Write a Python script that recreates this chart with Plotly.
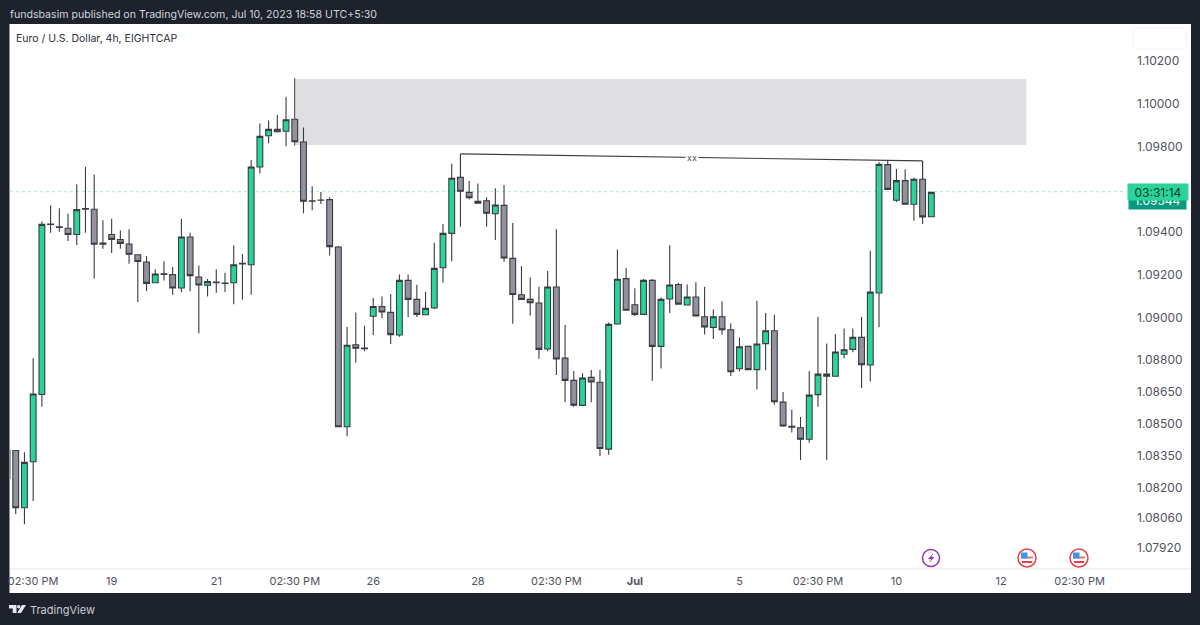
import plotly.graph_objects as go

# 4h candles, one per bar, oldest first
opens = [1.08246,1.08377,1.08109,1.08324,1.08639,1.09437,1.09424,1.09417,1.09388,1.09509,
         1.09506,1.09342,1.09388,1.09364,1.09343,1.09293,1.09259,1.09162,1.09204,1.09200,
         1.09137,1.09376,1.09189,1.09150,1.09165,1.09161,1.09162,1.09253,1.09246,1.09704,
         1.09850,1.09880,1.09871,1.09927,1.09821,1.09545,1.09549,1.09551,1.09329,1.08488,
         1.08872,1.08856,1.09005,1.09050,1.09023,1.08917,1.09173,1.09084,1.09012,1.09044,
         1.09232,1.09393,1.09655,1.09585,1.09534,1.09546,1.09485,1.09524,1.09276,1.09106,
         1.09084,1.09067,1.08852,1.09142,1.08809,1.08705,1.08588,1.08719,1.08696,1.08383,
         1.08969,1.09181,1.09059,1.09014,1.09173,1.08864,1.09086,1.09154,1.09058,1.09095,
         1.09003,1.08953,1.09003,1.08942,1.08759,1.08864,1.08755,1.08877,1.08937,1.08603,
         1.08490,1.08483,1.08429,1.08638,1.08734,1.08724,1.08827,1.08850,1.08906,1.08777,
         1.09114,1.09715,1.09548,1.09640,1.09529,1.09646,1.09471]
highs = [1.08385,1.08377,1.08368,1.08808,1.09448,1.09524,1.09510,1.09485,1.09623,1.09705,
         1.09669,1.09454,1.09462,1.09406,1.09412,1.09293,1.09287,1.09225,1.09262,1.09236,
         1.09462,1.09396,1.09243,1.09179,1.09225,1.09209,1.09337,1.09296,1.09737,1.09907,
         1.09921,1.09947,1.10033,1.10119,1.09889,1.09613,1.09587,1.09562,1.09334,1.08955,
         1.09023,1.08961,1.09090,1.09098,1.09109,1.09200,1.09200,1.09153,1.09120,1.09349,
         1.09437,1.09719,1.09655,1.09638,1.09627,1.09562,1.09604,1.09619,1.09441,1.09239,
         1.09187,1.09143,1.09217,1.09412,1.08964,1.08749,1.08738,1.08753,1.08753,1.08976,
         1.09318,1.09231,1.09136,1.09179,1.09179,1.09093,1.09337,1.09162,1.09154,1.09164,
         1.09143,1.09037,1.09075,1.08972,1.08906,1.08864,1.09078,1.09020,1.09012,1.08650,
         1.08568,1.08533,1.08749,1.09003,1.08877,1.08922,1.08948,1.08948,1.09001,1.09312,
         1.09726,1.09732,1.09694,1.09693,1.09655,1.09646,1.09585]
lows = [1.08240,1.08079,1.08031,1.08140,1.08582,1.09396,1.09401,1.09357,1.09339,1.09396,
        1.09182,1.09321,1.09301,1.09321,1.09251,1.09072,1.09123,1.09159,1.09172,1.09106,
        1.09117,1.09122,1.08925,1.09098,1.09115,1.09119,1.09061,1.09084,1.09106,1.09673,
        1.09815,1.09869,1.09801,1.09804,1.09487,1.09501,1.09530,1.09289,1.08488,1.08443,
        1.08789,1.08841,1.08917,1.08997,1.08875,1.08909,1.09001,1.09001,1.09012,1.09039,
        1.09162,1.09262,1.09424,1.09552,1.09534,1.09424,1.09362,1.09260,1.08970,1.09084,
        1.09009,1.08806,1.08841,1.08730,1.08602,1.08582,1.08588,1.08602,1.08351,1.08357,
        1.08969,1.09033,1.09005,1.09014,1.08703,1.08761,1.09020,1.09062,1.09058,1.09006,
        1.08920,1.08898,1.08919,1.08725,1.08747,1.08755,1.08663,1.08752,1.08592,1.08488,
        1.08461,1.08332,1.08413,1.08582,1.08332,1.08724,1.08808,1.08836,1.08669,1.08700,
        1.08953,1.09599,1.09540,1.09529,1.09452,1.09437,1.09471]
closes = [1.08379,1.08109,1.08321,1.08641,1.09435,1.09435,1.09421,1.09388,1.09504,1.09506,
          1.09342,1.09348,1.09365,1.09346,1.09295,1.09261,1.09159,1.09203,1.09201,1.09137,
          1.09376,1.09195,1.09151,1.09168,1.09162,1.09159,1.09246,1.09250,1.09704,1.09847,
          1.09880,1.09869,1.09925,1.09822,1.09543,1.09543,1.09548,1.09331,1.08488,1.08869,
          1.08855,1.08853,1.09051,1.09025,1.08919,1.09173,1.09084,1.09014,1.09042,1.09229,
          1.09393,1.09651,1.09590,1.09560,1.09543,1.09487,1.09526,1.09278,1.09107,1.09084,
          1.09068,1.08850,1.09142,1.08805,1.08705,1.08589,1.08716,1.08697,1.08386,1.08967,
          1.09178,1.09033,1.09014,1.09173,1.08864,1.09084,1.09151,1.09062,1.09095,1.09006,
          1.08955,1.09003,1.08942,1.08745,1.08862,1.08755,1.08875,1.08937,1.08605,1.08491,
          1.08486,1.08429,1.08636,1.08734,1.08724,1.08838,1.08848,1.08906,1.08778,1.09118,
          1.09716,1.09599,1.09640,1.09529,1.09646,1.09470,1.09585]
bars = list(range(len(opens)))

time_ticks = [3, 12, 24, 33, 42, 54, 63, 72, 84, 93, 102, 114, 123]
time_labels = ["02:30 PM", "19", "21", "02:30 PM", "26", "28", "02:30 PM", "<b>Jul</b>",
               "5", "02:30 PM", "10", "12", "02:30 PM"]
price_ticks = [1.102, 1.1, 1.098, 1.094, 1.092, 1.09, 1.088, 1.0865, 1.085, 1.0835, 1.082, 1.0806, 1.0792]
price_labels = ["1.10200", "1.10000", "1.09800", "1.09400", "1.09200", "1.09000", "1.08800",
                "1.08650", "1.08500", "1.08350", "1.08200", "1.08060", "1.07920"]

last_price = 1.09588
zone_bars = [33.14, 116.9]
zone_prices = [1.09807, 1.10116]
bracket_bars = [52, 105]
bracket_prices = [1.09765, 1.09732]

W, H = 1200, 625
L, R, T, B = 10, 1127, 24, 569
FONT = "Inter, 'Liberation Sans', sans-serif"
DARK_BG = "#1e222d"
GREEN = "#2ad39a"
GREY = "#92929c"
EDGE = "#3a3c44"


def px(x):
    return (x - L) / (R - L)


def py(y):
    return (B - y) / (B - T)


def paper_path(points):
    # points are page pixels, "Z" closes the outline
    out = ""
    for i, p in enumerate(points):
        if p == "Z":
            out += " Z"
        else:
            out += (" M " if i == 0 or points[i - 1] == "Z" else " L ") + f"{px(p[0]):.5f} {py(p[1]):.5f}"
    return out.strip()


def circle(cx, cy, r, fill, line, width):
    return dict(type="circle", xref="paper", yref="paper", x0=px(cx - r), x1=px(cx + r),
                y0=py(cy + r), y1=py(cy - r), fillcolor=fill, line=dict(color=line, width=width), layer="above")


def box(x0, y0, x1, y1, fill, layer="above"):
    return dict(type="rect", xref="paper", yref="paper", x0=px(x0), x1=px(x1), y0=py(y1), y1=py(y0),
                fillcolor=fill, line_width=0, layer=layer)


fig = go.Figure(go.Candlestick(
    x=bars, open=opens, high=highs, low=lows, close=closes,
    increasing=dict(fillcolor=GREEN, line=dict(color=EDGE, width=1.1)),
    decreasing=dict(fillcolor=GREY, line=dict(color=EDGE, width=1.1)),
    whiskerwidth=0, showlegend=False,
))

shapes = [
    # white chart card behind the axes
    box(9.5, 24, 1191, 593, "white", "below"),
    dict(type="line", xref="paper", yref="paper", x0=0, x1=px(1191), y0=0, y1=0,
         line=dict(color="#e4e6ec", width=1), layer="below"),
    # supply zone
    dict(type="rect", x0=zone_bars[0], x1=zone_bars[1], y0=zone_prices[0], y1=zone_prices[1],
         fillcolor="#dfdfe1", line_width=0, layer="below"),
    # last price line
    dict(type="line", xref="paper", x0=0, x1=1, y0=last_price, y1=last_price,
         line=dict(color="#a5e8d0", width=1, dash="dot"), layer="below"),
    # xx bracket
    dict(type="line", x0=bracket_bars[0], x1=bracket_bars[1], y0=bracket_prices[0], y1=bracket_prices[1],
         line=dict(color="#3c3e46", width=1.2)),
    dict(type="line", x0=bracket_bars[0], x1=bracket_bars[0], y0=bracket_prices[0], y1=highs[52],
         line=dict(color="#3c3e46", width=1.2)),
    dict(type="line", x0=bracket_bars[1], x1=bracket_bars[1], y0=bracket_prices[1], y1=highs[105],
         line=dict(color="#3c3e46", width=1.2)),
    # empty logo slot top right
    dict(type="path", xref="paper", yref="paper", layer="above",
         path=paper_path([(1136, 28), (1184, 28), (1187, 31), (1187, 46), (1184, 49),
                          (1136, 49), (1133, 46), (1133, 31), "Z"]),
         fillcolor="white", line=dict(color="#f1f3f6", width=1)),
    # lightning event
    circle(931, 558, 8.5, "white", "#9c33b5", 1.5),
    dict(type="path", xref="paper", yref="paper", layer="above",
         path=paper_path([(933.5, 553), (928, 559), (931, 559), (929, 563), (934.5, 557), (931.5, 557), "Z"]),
         fillcolor="#9c33b5", line_width=0),
    # TradingView mark
    dict(type="path", xref="paper", yref="paper", layer="above",
         path=paper_path([(9, 605), (16.5, 605), (16.5, 613), (12.7, 613), (12.7, 608.5), (9, 608.5), "Z"]),
         fillcolor="#e8e9ec", line_width=0),
    circle(18.7, 606.7, 1.7, "#e8e9ec", "#e8e9ec", 0),
    dict(type="path", xref="paper", yref="paper", layer="above",
         path=paper_path([(22, 605), (26, 605), (21, 613), (17.2, 613), "Z"]),
         fillcolor="#e8e9ec", line_width=0),
]
# US flag events
for cx in [1027, 1079]:
    shapes.append(circle(cx, 558, 9, "white", "#e8404a", 1.5))
    shapes.append(box(cx - 6, 556.5, cx + 6, 558.5, "#e8737a"))
    shapes.append(box(cx - 5, 561, cx + 5, 563, "#e8404a"))
    shapes.append(box(cx - 6, 552.5, cx + 0.5, 558.5, "#3f93e8"))

annotations = [
    dict(text="fundsbasim published on TradingView.com, Jul 10, 2023 18:58 UTC+5:30", xref="paper", yref="paper",
         x=px(8), y=py(14), xanchor="left", yanchor="middle", showarrow=False,
         font=dict(family=FONT, size=10.6, color="#d1d4dc")),
    dict(text="Euro / U.S. Dollar, 4h, EIGHTCAP", xref="paper", yref="paper",
         x=px(14), y=py(38), xanchor="left", yanchor="middle", showarrow=False,
         font=dict(family=FONT, size=10.5, color="#2a2e39")),
    dict(text="TradingView", xref="paper", yref="paper",
         x=px(28), y=py(610), xanchor="left", yanchor="middle", showarrow=False,
         font=dict(family=FONT, size=11, color="#c9cbd2")),
    dict(text="xx", x=(bracket_bars[0] + bracket_bars[1]) / 2, y=sum(bracket_prices) / 2,
         showarrow=False, bgcolor="white", font=dict(family=FONT, size=9, color="#50535e"),
         borderpad=1),
    # price tag sits under the countdown tag
    dict(text="1.09544", xref="paper", yref="paper", x=px(1157.5), y=py(200), xanchor="center", yanchor="middle",
         showarrow=False, width=55, height=16, bgcolor="#089981", font=dict(family=FONT, size=12, color="#ffffff")),
    dict(text="03:31:14", xref="paper", yref="paper", x=px(1158), y=py(192), xanchor="center", yanchor="middle",
         showarrow=False, width=58, height=14, bgcolor=GREEN, font=dict(family=FONT, size=12, color="#0b3b2c")),
]

fig.update_layout(
    width=W, height=H,
    margin=dict(l=L, r=W - R, t=T, b=H - B, pad=0, autoexpand=False),
    paper_bgcolor=DARK_BG, plot_bgcolor="white",
    font=dict(family=FONT, size=12, color="#50535e"),
    shapes=shapes, annotations=annotations, hovermode=False, dragmode=False, boxgap=0.05,
    xaxis=dict(range=[0.344, 128.44], tickmode="array", tickvals=time_ticks, ticktext=time_labels,
               showgrid=False, zeroline=False, showline=False, ticks="", rangeslider_visible=False,
               tickfont=dict(size=11), ticklabelstandoff=4),
    yaxis=dict(range=[1.07822, 1.10373], side="right", tickmode="array", tickvals=price_ticks,
               ticktext=price_labels, showgrid=False, zeroline=False, showline=False, ticks="",
               ticklabelstandoff=9),
)

fig.write_html("out.html", config={"displayModeBar": False}, post_script="document.body.style.margin='0';")
